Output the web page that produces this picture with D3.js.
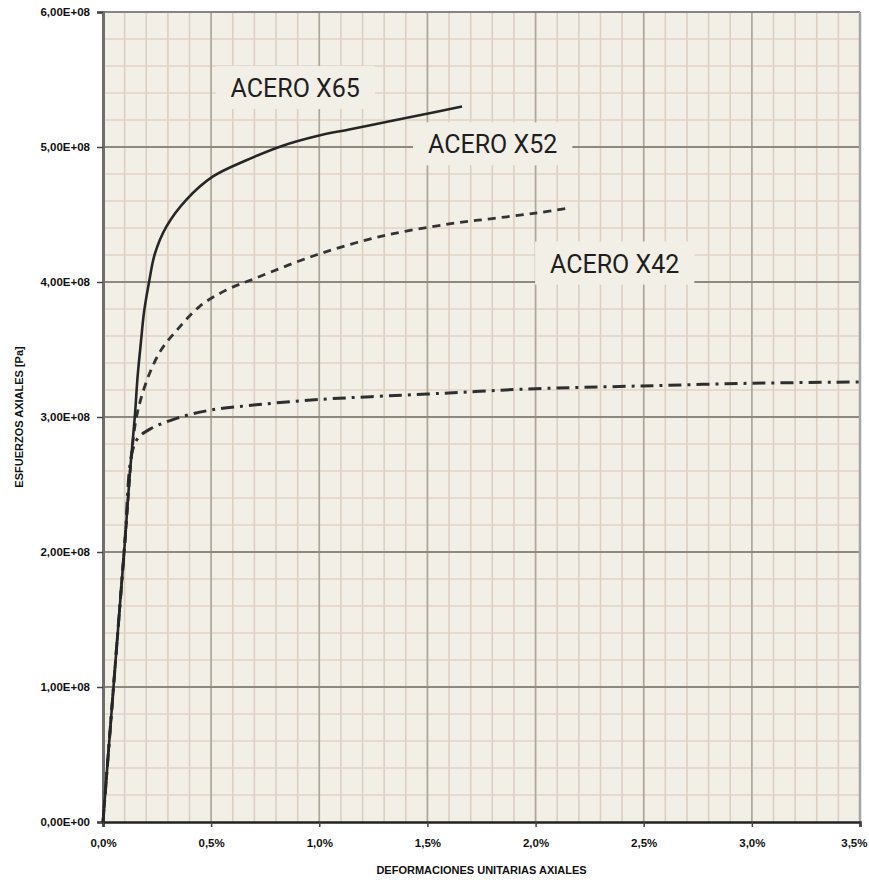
<!DOCTYPE html>
<html>
<head>
<meta charset="utf-8">
<script src="https://cdn.jsdelivr.net/npm/d3@7"></script>
<style>
  body { margin: 0; background: #fff; }
  svg { display: block; }
</style>
</head>
<body>
<div id="chart"></div>
<script>

// strain in %, stress in 1e8 Pa
var x65Strain = [0, 0.05, 0.10, 0.125, 0.147, 0.16, 0.175, 0.19, 0.213, 0.24, 0.293, 0.386, 0.507, 0.66, 0.831, 0.985, 1.138, 1.292, 1.446, 1.66]
var x65Stress = [0, 1.03, 2.05, 2.6, 3.0, 3.3, 3.55, 3.78, 4.0, 4.21, 4.41, 4.61, 4.78, 4.90, 5.01, 5.08, 5.13, 5.18, 5.23, 5.30]

var x52Strain = [0, 0.05, 0.10, 0.137, 0.155, 0.178, 0.217, 0.27, 0.34, 0.447, 0.57, 0.708, 0.985, 1.29, 1.6, 1.8, 2.0, 2.16]
var x52Stress = [0, 1.03, 2.05, 2.8, 3.0, 3.15, 3.33, 3.50, 3.64, 3.82, 3.94, 4.03, 4.20, 4.34, 4.43, 4.47, 4.51, 4.55]

var x42Strain = [0, 0.05, 0.10, 0.132, 0.16, 0.217, 0.34, 0.493, 0.708, 1.0, 1.5, 1.74, 2.0, 2.49, 3.0, 3.5]
var x42Stress = [0, 1.03, 2.05, 2.72, 2.84, 2.91, 2.99, 3.05, 3.09, 3.13, 3.17, 3.19, 3.21, 3.23, 3.25, 3.26]

var xTicks = [0, 0.5, 1.0, 1.5, 2.0, 2.5, 3.0, 3.5]
var yTicks = [0, 1e8, 2e8, 3e8, 4e8, 5e8, 6e8]

var seriesNames = ["ACERO X65", "ACERO X52", "ACERO X42"]
// label anchors (strain %, stress Pa) where each text starts
var labelStrain = [0.59, 1.503, 2.067]
var labelStress = [5.37e8, 4.953e8, 4.07e8]

var width = 869
var height = 880
var plotLeft = 103, plotRight = 860, plotTop = 12, plotBottom = 822

var x = d3.scaleLinear().domain([0, 3.5]).range([plotLeft, plotRight])
var y = d3.scaleLinear().domain([0, 6e8]).range([plotBottom, plotTop])

var svg = d3.select("#chart").append("svg")
    .attr("width", width)
    .attr("height", height)

// plot background
svg.append("rect")
    .attr("x", plotLeft)
    .attr("y", plotTop)
    .attr("width", plotRight - plotLeft)
    .attr("height", plotBottom - plotTop)
    .attr("fill", "#f2f0e6")

var grid = svg.append("g")

// minor grid, 0.1 % and 0.2E+08
grid.selectAll(".vminor")
  .data(d3.range(1, 35).map(d => d / 10))
  .join("line")
    .attr("x1", d => x(d)).attr("x2", d => x(d))
    .attr("y1", plotTop).attr("y2", plotBottom)
    .attr("stroke", "#dbcfc1")
    .attr("stroke-width", 1.6)

grid.selectAll(".hminor")
  .data(d3.range(1, 30).map(d => d * 2e7))
  .join("line")
    .attr("x1", plotLeft).attr("x2", plotRight)
    .attr("y1", d => y(d)).attr("y2", d => y(d))
    .attr("stroke", "#e0d3c6")
    .attr("stroke-width", 1.6)

// major grid
grid.selectAll(".vmajor")
  .data(xTicks.slice(1, -1))
  .join("line")
    .attr("x1", d => x(d)).attr("x2", d => x(d))
    .attr("y1", plotTop).attr("y2", plotBottom)
    .attr("stroke", "#aca69b")
    .attr("stroke-width", 1.6)

grid.selectAll(".hmajor")
  .data(yTicks.slice(1, -1))
  .join("line")
    .attr("x1", plotLeft).attr("x2", plotRight)
    .attr("y1", d => y(d)).attr("y2", d => y(d))
    .attr("stroke", "#8e897f")
    .attr("stroke-width", 2.2)

// frame
svg.append("line")
    .attr("x1", plotLeft).attr("x2", plotRight).attr("y1", plotTop).attr("y2", plotTop)
    .attr("stroke", "#858585").attr("stroke-width", 2.2)
svg.append("line")
    .attr("x1", plotRight).attr("x2", plotRight).attr("y1", plotTop).attr("y2", plotBottom)
    .attr("stroke", "#a5a5a5").attr("stroke-width", 2.5)

// label boxes hide the grid behind them
var labels = svg.append("g")
    .attr("font-family", "Roboto, 'Liberation Sans', sans-serif")
    .attr("font-size", 25)
    .attr("fill", "#1e1e1e")

seriesNames.forEach(function (name, i) {
  var g = labels.append("g")
  var box = g.append("rect")
  var t = g.append("text")
      .attr("x", x(labelStrain[i]))
      .attr("y", y(labelStress[i]))
      .text(name)
  var b = t.node().getBBox()
  box.attr("x", b.x - 15)
      .attr("y", y(labelStress[i]) - 31)
      .attr("width", b.width + 30)
      .attr("height", 43)
      .attr("fill", "#f2f0e6")
})

// axes
var yAxis = svg.append("g")
    .attr("transform", "translate(" + plotLeft + ",0)")
    .call(d3.axisLeft(y)
      .tickValues(yTicks)
      .tickSize(6)
      .tickPadding(7)
      .tickFormat(d => d3.format(".2e")(d).replace(".", ",").replace("e+", "E+0").toUpperCase()))

yAxis.select(".domain")
    .attr("stroke", "#6e6e6e")
    .attr("stroke-width", 3)

var xAxis = svg.append("g")
    .attr("transform", "translate(0," + plotBottom + ")")
    .call(d3.axisBottom(x)
      .tickValues(xTicks)
      .tickSize(5)
      .tickPadding(12)
      .tickFormat(d => d3.format(".1f")(d).replace(".", ",") + "%"))

xAxis.select(".domain")
    .attr("stroke", "#222")
    .attr("stroke-width", 2.5)

// last label sits at the window edge, pull it in so it stays whole
xAxis.selectAll(".tick text")
    .filter(d => d === 3.5)
    .attr("text-anchor", "end")
    .attr("dx", 7)

svg.selectAll(".tick line")
    .attr("stroke", "#444")
    .attr("stroke-width", 1.5)

svg.selectAll(".tick text")
    .attr("font-family", "'Liberation Sans', Arial, sans-serif")
    .attr("font-weight", "bold")
    .attr("font-size", 11.5)
    .attr("fill", "#111")

// axis titles
svg.append("text")
    .attr("x", (plotLeft + plotRight) / 2)
    .attr("y", 874)
    .attr("text-anchor", "middle")
    .attr("font-family", "'Liberation Sans', Arial, sans-serif")
    .attr("font-weight", "bold")
    .attr("font-size", 11)
    .attr("fill", "#111")
    .text("DEFORMACIONES UNITARIAS AXIALES")

svg.append("text")
    .attr("transform", "translate(23," + ((plotTop + plotBottom) / 2) + ") rotate(-90)")
    .attr("text-anchor", "middle")
    .attr("font-family", "'Liberation Sans', Arial, sans-serif")
    .attr("font-weight", "bold")
    .attr("font-size", 11)
    .attr("fill", "#111")
    .text("ESFUERZOS AXIALES [Pa]")

// curves
var line = d3.line()
    .x(d => x(d[0]))
    .y(d => y(d[1] * 1e8))
    .curve(d3.curveCatmullRom.alpha(0.5))

var curves = svg.append("g")
    .attr("fill", "none")
    .attr("stroke-linecap", "butt")

curves.append("path")
    .attr("d", line(d3.zip(x42Strain, x42Stress)))
    .attr("stroke", "#2e2e2e")
    .attr("stroke-width", 3)
    .style("stroke-dasharray", "13, 6, 3, 6")

curves.append("path")
    .attr("d", line(d3.zip(x52Strain, x52Stress)))
    .attr("stroke", "#333")
    .attr("stroke-width", 2.8)
    .style("stroke-dasharray", "8, 6")

curves.append("path")
    .attr("d", line(d3.zip(x65Strain, x65Stress)))
    .attr("stroke", "#262626")
    .attr("stroke-width", 2.6)

</script>
</body>
</html>
